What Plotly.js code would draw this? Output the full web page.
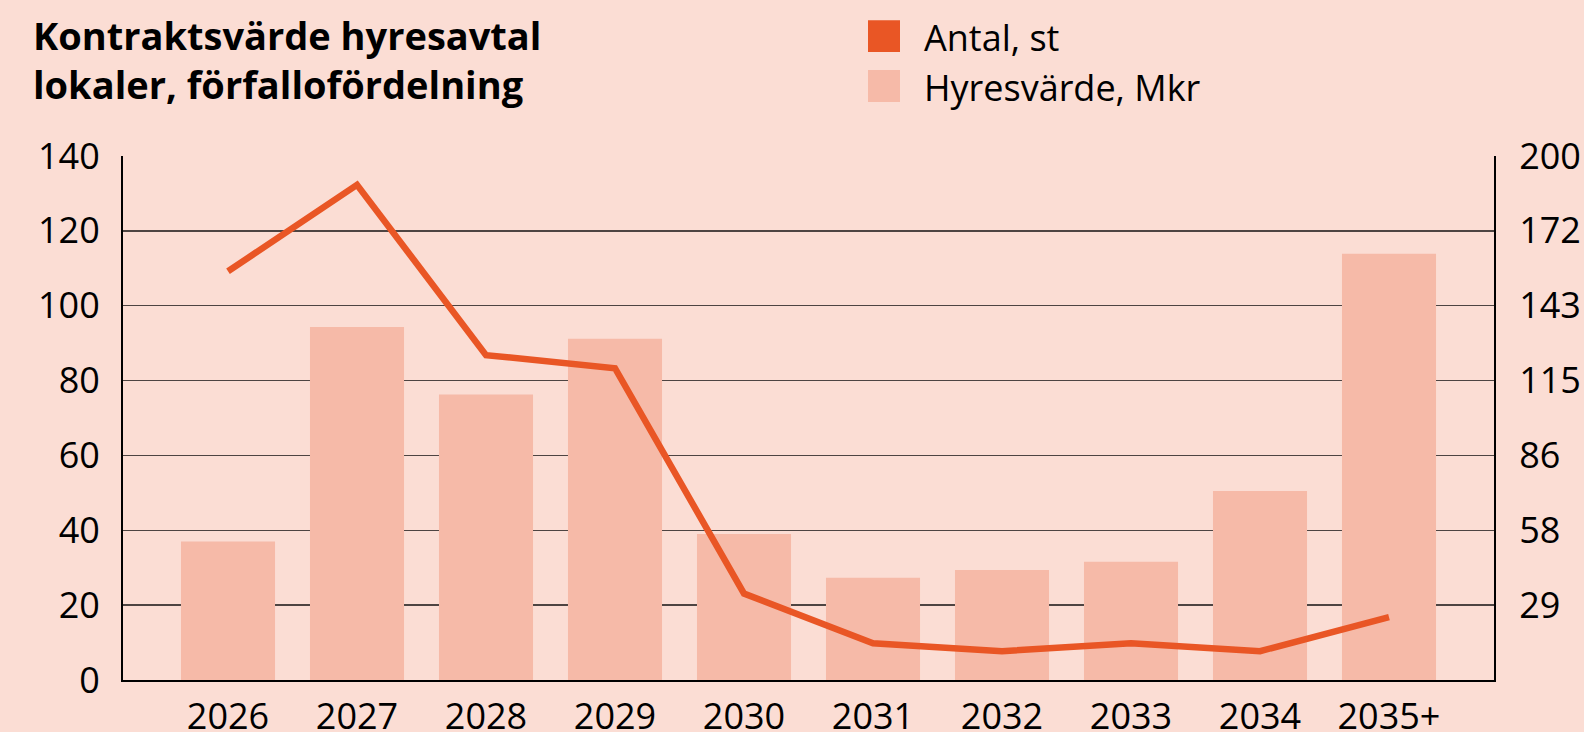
<!DOCTYPE html>
<html>
<head>
<meta charset="utf-8">
<script src="https://cdn.plot.ly/plotly-3.0.1.min.js"></script>
<style>
  html, body { margin: 0; padding: 0; background: #FBDDD4; }
  #chart { width: 1584px; height: 732px; }
</style>
</head>
<body>
<div id="chart"></div>
<script>
// Data
const categories = ["2026", "2027", "2028", "2029", "2030", "2031", "2032", "2033", "2034", "2035+"];
const hyresvardeMkr = [37, 94.3, 76.3, 91.2, 39, 27.3, 29.4, 31.6, 50.5, 113.9];
const antalSt = [156, 189, 124, 119, 33, 14, 11, 14, 11, 24];
const rightTickLabels = ["29", "58", "86", "115", "143", "172", "200"];
const seriesNames = ["Antal, st", "Hyresvärde, Mkr"];
const titleLines = ["Kontraktsvärde hyresavtal", "lokaler, förfallofördelning"];

const lineColor = "#E95625";
const barColor = "#F6BAA8";
const bg = "#FBDDD4";
const tickFont = { family: "Open Sans, sans-serif", size: 36, color: "#000" };

// plot area geometry in pixels (for layout helpers)
const L = 123, R = 1494, T = 156, B = 680.5;
const px = x => (x - L) / (R - L);
const py = y => (B - y) / (B - T);

const rightMax = 200;
const rightTickVals = rightTickLabels.map((_, i) => (i + 1) * rightMax / rightTickLabels.length);

const traces = [
  {
    type: "bar",
    x: categories,
    y: hyresvardeMkr,
    name: seriesNames[1],
    marker: { color: barColor },
    width: 0.729,
    yaxis: "y",
    hoverinfo: "skip",
    showlegend: false
  },
  {
    type: "scatter",
    mode: "lines",
    x: categories,
    y: antalSt,
    name: seriesNames[0],
    line: { color: lineColor, width: 6.5 },
    yaxis: "y2",
    hoverinfo: "skip",
    showlegend: false
  }
];

const titleFont = { family: "Open Sans, sans-serif", size: 38, color: "#000", weight: 700 };

const layout = {
  width: 1584,
  height: 732,
  paper_bgcolor: bg,
  plot_bgcolor: bg,
  margin: { l: L, r: 1584 - R, t: T, b: 732 - B, pad: 0 },
  showlegend: false,
  xaxis: {
    type: "category",
    range: [-0.814, 9.814],
    showline: true,
    linecolor: "#000",
    linewidth: 2,
    showgrid: false,
    zeroline: false,
    ticks: "",
    tickfont: tickFont,
    ticklabelstandoff: 4,
    fixedrange: true
  },
  yaxis: {
    range: [0, 140],
    dtick: 20,
    tick0: 0,
    showline: true,
    linecolor: "#000",
    linewidth: 2,
    showgrid: true,
    gridcolor: "#4d4442",
    gridwidth: 1.5,
    zeroline: false,
    ticks: "",
    tickfont: tickFont,
    ticklabelstandoff: 14,
    fixedrange: true
  },
  yaxis2: {
    overlaying: "y",
    side: "right",
    range: [0, rightMax],
    tickmode: "array",
    tickvals: rightTickVals,
    ticktext: rightTickLabels,
    showline: true,
    linecolor: "#000",
    linewidth: 2,
    showgrid: false,
    zeroline: false,
    ticks: "",
    tickfont: tickFont,
    ticklabelstandoff: 16,
    fixedrange: true
  },
  shapes: [
    { type: "rect", xref: "paper", yref: "paper", x0: px(868), x1: px(900), y0: py(52), y1: py(20),
      fillcolor: lineColor, line: { width: 0 } },
    { type: "rect", xref: "paper", yref: "paper", x0: px(868), x1: px(900), y0: py(102), y1: py(70),
      fillcolor: barColor, line: { width: 0 } }
  ],
  annotations: [
    { text: "<b>" + titleLines.join("<br>") + "</b>", xref: "paper", yref: "paper", x: px(31), y: py(7),
      xanchor: "left", yanchor: "top", align: "left", showarrow: false, font: titleFont },
    { text: seriesNames[0], xref: "paper", yref: "paper", x: px(922), y: py(37),
      xanchor: "left", yanchor: "middle", showarrow: false,
      font: { family: "Open Sans, sans-serif", size: 36, color: "#000" } },
    { text: seriesNames[1], xref: "paper", yref: "paper", x: px(922), y: py(87),
      xanchor: "left", yanchor: "middle", showarrow: false,
      font: { family: "Open Sans, sans-serif", size: 36, color: "#000" } }
  ]
};

Plotly.newPlot("chart", traces, layout, { staticPlot: true, displayModeBar: false });
</script>
</body>
</html>
